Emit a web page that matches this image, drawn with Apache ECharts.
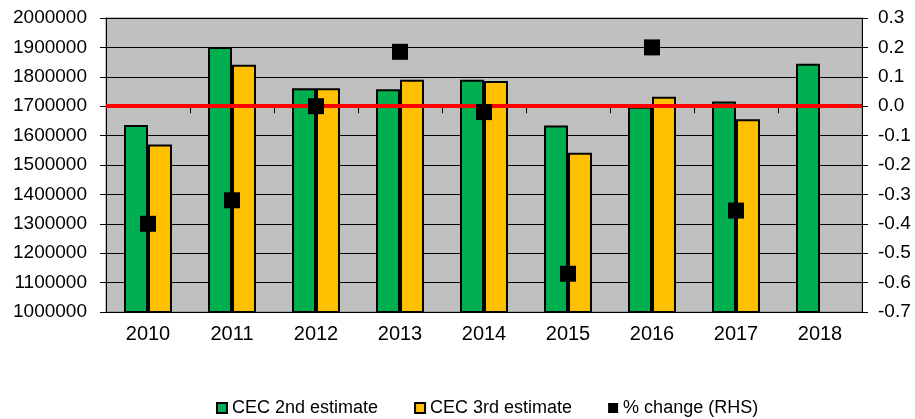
<!DOCTYPE html>
<html>
<head>
<meta charset="utf-8">
<script src="https://cdn.jsdelivr.net/npm/echarts@6/dist/echarts.min.js"></script>
<style>
  html, body { margin: 0; padding: 0; background: #fff; }
  #main { width: 915px; height: 419px; }
</style>
</head>
<body>
<div id="main"></div>
<script>
// data
var years = ['2010', '2011', '2012', '2013', '2014', '2015', '2016', '2017', '2018'];
var cec2nd = [1636000, 1901000, 1761000, 1758000, 1790000, 1634000, 1698000, 1716000, 1844000];
var cec3rd = [1570000, 1841000, 1761000, 1790000, 1786000, 1542000, 1732000, 1656000, null];
var pctChange = [-0.40, -0.32, 0.00, 0.185, -0.02, -0.57, 0.20, -0.355, null];
var refLine = 1700000;

var chart = echarts.init(document.getElementById('main'));
var font = 'Liberation Sans, Arial, sans-serif';

chart.setOption({
  animation: false,
  textStyle: { fontFamily: font, color: '#000' },
  grid: {
    left: 106, right: 53, top: 18, bottom: 107,
    show: true,
    backgroundColor: '#C0C0C0',
    borderColor: '#808080',
    borderWidth: 1
  },
  legend: {
    left: 211,
    top: 394,
    itemWidth: 10,
    itemHeight: 10,
    itemGap: 36,
    itemTextGap: 4,
    icon: 'rect',
    textStyle: { fontSize: 18, color: '#000', fontFamily: font },
    data: ['CEC 2nd estimate', 'CEC 3rd estimate', '% change (RHS)']
  },
  xAxis: {
    type: 'category',
    data: years,
    boundaryGap: true,
    axisLine: { lineStyle: { color: '#000', width: 1 } },
    axisTick: { show: true, interval: 0, length: 7, lineStyle: { color: '#000' } },
    axisLabel: { fontSize: 20, color: '#000', margin: 12, fontFamily: font }
  },
  yAxis: [
    {
      type: 'value',
      min: 1000000,
      max: 2000000,
      interval: 100000,
      axisLine: { show: true, lineStyle: { color: '#000', width: 1 } },
      axisTick: { show: true, length: 6, lineStyle: { color: '#000' } },
      axisLabel: {
        fontSize: 19, color: '#000', margin: 19, fontFamily: font,
        formatter: function (v) { return String(v); }
      },
      splitLine: { show: true, lineStyle: { color: '#000', width: 1 } }
    },
    {
      type: 'value',
      min: -0.7,
      max: 0.3,
      interval: 0.1,
      position: 'right',
      axisLine: { show: true, lineStyle: { color: '#000', width: 1 } },
      axisTick: { show: true, length: 6, lineStyle: { color: '#000' } },
      axisLabel: {
        fontSize: 19, color: '#000', margin: 16, fontFamily: font,
        formatter: function (v) { return v.toFixed(1); }
      },
      splitLine: { show: false }
    }
  ],
  series: [
    {
      name: 'CEC 2nd estimate',
      type: 'bar',
      data: cec2nd,
      barWidth: 24,
      barGap: '0%',
      itemStyle: { color: '#00B050', borderColor: '#000', borderWidth: 2 },
      markLine: {
        silent: true,
        symbol: 'none',
        label: { show: false },
        lineStyle: { color: '#FF0000', width: 4, type: 'solid' },
        data: [{ yAxis: refLine }]
      }
    },
    {
      name: 'CEC 3rd estimate',
      type: 'bar',
      data: cec3rd,
      barWidth: 24,
      barGap: '0%',
      itemStyle: { color: '#FFC000', borderColor: '#000', borderWidth: 2 }
    },
    {
      name: '% change (RHS)',
      type: 'scatter',
      yAxisIndex: 1,
      data: pctChange,
      symbol: 'rect',
      symbolSize: 16,
      z: 5,
      itemStyle: { color: '#000', opacity: 1 }
    }
  ]
});
</script>
</body>
</html>
